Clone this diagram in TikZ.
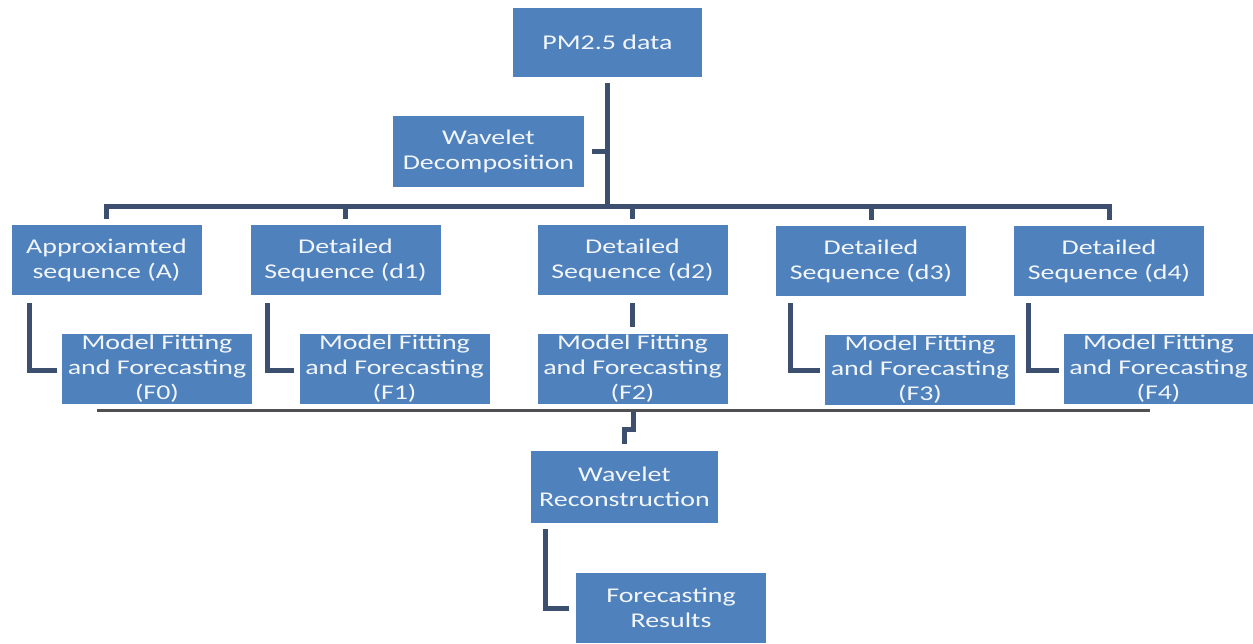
\documentclass[tikz,border=0pt]{standalone}
\usepackage{fontspec}
\setmainfont{Carlito}[FakeStretch=1.33]
\usetikzlibrary{calc}
\definecolor{boxblue}{HTML}{4F81BD}
\definecolor{linenavy}{HTML}{3C4F6E}
\definecolor{txtwhite}{HTML}{F2F6FB}
\definecolor{busgray}{HTML}{505052}
\begin{document}
\begin{tikzpicture}[x=1pt,y=-1pt,
  box/.style={fill=boxblue, text=txtwhite, align=center, minimum width=190pt,
    minimum height=70pt, inner sep=0pt, font=\fontsize{21}{25}\selectfont},
  conn/.style={draw=linenavy, line width=5pt},
  thinbus/.style={draw=busgray, line width=3pt}]
\useasboundingbox[fill=white] (0,0) rectangle (1253,643);

% nodes
\node[box, minimum width=189pt, minimum height=69pt] (pm) at (607.5,42.5) {PM2.5 data};
\node[box, minimum width=191pt, minimum height=71pt] (wd) at (488.5,151.5) {Wavelet\\Decomposition};
\node[box] (sa) at (106.5,260) {Approxiamted\\sequence (A)};
\node[box] (s1) at (345.5,260) {Detailed\\Sequence (d1)};
\node[box] (s2) at (632.5,260) {Detailed\\Sequence (d2)};
\node[box] (s3) at (871,261) {Detailed\\Sequence (d3)};
\node[box] (s4) at (1109,261) {Detailed\\Sequence (d4)};
\node[box] (f0) at (157,368.5) {Model Fitting\\and Forecasting\\(F0)};
\node[box] (f1) at (394.5,368.5) {Model Fitting\\and Forecasting\\(F1)};
\node[box] (f2) at (632.5,368.5) {Model Fitting\\and Forecasting\\(F2)};
\node[box] (f3) at (920,369.5) {Model Fitting\\and Forecasting\\(F3)};
\node[box, minimum width=189pt] (f4) at (1158.5,368.5) {Model Fitting\\and Forecasting\\(F4)};
\node[box, minimum width=187pt, minimum height=72pt] (wr) at (624.5,487) {Wavelet\\Reconstruction};
\node[box] (fr) at (671,608) {Forecasting\\Results};

% top trunk and bus
\draw[conn] ($(pm.south)+(0,6)$) -- ($(pm.south)+(0,132)$);
\draw[conn] ($(wd.east)+(8,0)$) -- ++(16,0);
\draw[conn] ($(sa.north)+(0,-6)$) -- ++(0,-12) -| ($(s4.north)+(0,-6)$);
\draw[conn] ($(s1.north)+(0,-6)$) -- ++(0,-14);
\draw[conn] ($(s2.north)+(0,-6)$) -- ++(0,-14);
\draw[conn] ($(s3.north)+(0,-6)$) -- ++(0,-14);

% sequence to model fitting
\draw[conn] ($(sa.south west)+(18,8)$) |- ($(f0.west)+(-5,1.5)$);
\draw[conn] ($(s1.south west)+(17,8)$) |- ($(f1.west)+(-5,1.5)$);
\draw[conn] ($(s2.south)+(0,8)$) -- ($(f2.north)+(0,-6)$);
\draw[conn] ($(s3.south west)+(15,7)$) |- ($(f3.west)+(-5,0.5)$);
\draw[conn] ($(s4.south west)+(15,7)$) |- ($(f4.west)+(-5,1.5)$);

% collecting line
\coordinate (busL) at ($(f0.south west)+(35,6.5)$);
\coordinate (busR) at ($(f0.south west)+(1088,6.5)$);
\draw[thinbus] (busL) -- (busR);

% to reconstruction and results
\draw[conn] ($(f2.south)+(0.5,7)$) -- ++(0,19) -| ($(wr.north)+(0,-7)$);
\draw[conn] ($(wr.south west)+(15,6)$) |- ($(fr.west)+(-7,0)$);
\end{tikzpicture}
\end{document}
